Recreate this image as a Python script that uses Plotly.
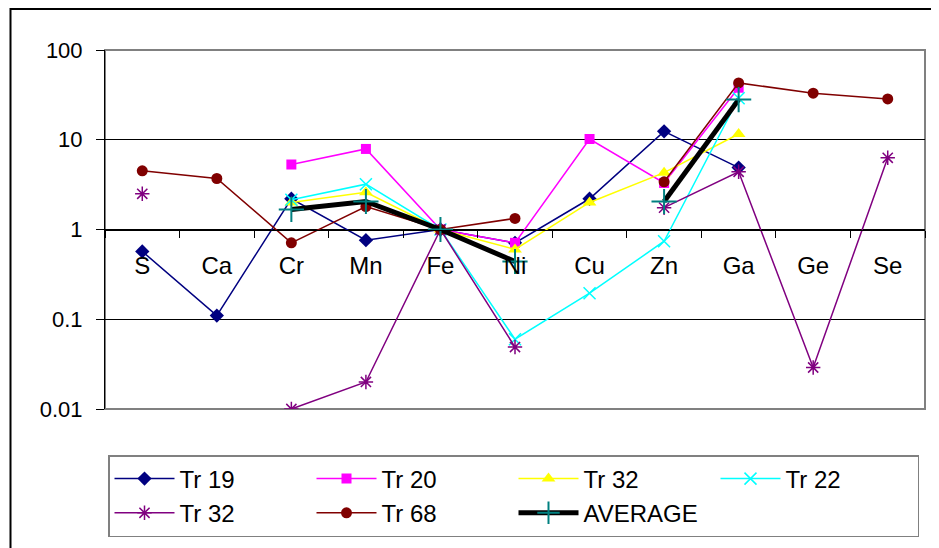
import plotly.graph_objects as go

elements = ["S", "Ca", "Cr", "Mn", "Fe", "Ni", "Cu", "Zn", "Ga", "Ge", "Se"]

tr19 = [0.57, 0.11, 2.2, 0.76, 1.0, 0.71, 2.2, 12.4, 4.9, None, None]
tr20 = [None, None, 5.3, 7.9, 1.0, 0.71, 10.2, 3.3, 38, None, None]
tr32a = [None, None, 2.0, 2.6, 1.0, 0.6, 2.0, 4.3, 11.6, None, None]
tr22 = [None, None, 2.15, 3.2, 1.0, 0.06, 0.195, 0.74, 29, None, None]
tr32b = [2.5, None, 0.01, 0.02, 1.0, 0.049, None, 1.75, 4.4, 0.029, 6.3]
tr68 = [4.5, 3.7, 0.71, 1.8, 1.0, 1.33, None, 3.4, 43, 33, 28.5]
average = [None, None, 1.67, 2.05, 1.0, 0.44, None, 2.05, 28, None, None]

ytickvals = [0.01, 0.1, 1, 10, 100]
yticktext = ["0.01", "0.1", "1", "10", "100"]

FONT = "Arial, Liberation Sans, sans-serif"

series = [
    ("Tr 19", tr19, "#000080", dict(symbol="diamond", size=11, color="#000080"), 1.5),
    ("Tr 20", tr20, "#FF00FF", dict(symbol="square", size=10, color="#FF00FF"), 1.5),
    ("Tr 32", tr32a, "#FFFF00", dict(symbol="triangle-up", size=12, color="#FFFF00"), 1.5),
    ("Tr 22", tr22, "#00FFFF", dict(symbol="x-thin-open", size=12, color="#00FFFF",
                                   line=dict(width=1.5, color="#00FFFF")), 1.5),
    ("Tr 32", tr32b, "#800080", dict(symbol="asterisk-open", size=12, color="#800080",
                                    line=dict(width=1.5, color="#800080")), 1.5),
    ("Tr 68", tr68, "#800000", dict(symbol="circle", size=11, color="#800000"), 1.5),
    ("AVERAGE", average, "#000000", dict(symbol="cross-thin-open", size=18, color="#008080",
                                        line=dict(width=2, color="#008080")), 5),
]

fig = go.Figure()
for name, vals, col, mk, lw in series:
    fig.add_trace(go.Scatter(
        x=elements, y=vals, name=name, mode="lines+markers",
        line=dict(color=col, width=lw), marker=mk, connectgaps=False,
    ))

# page body has an 8px margin, so the figure is laid out 8px up/left
L, T, R, B = 97, 42, 917, 402
W, H = 931, 540

fig.update_layout(
    width=W, height=H,
    margin=dict(l=L, r=W - R, t=T, b=H - B),
    paper_bgcolor="white", plot_bgcolor="white",
    font=dict(family=FONT, size=24, color="black"),
    showlegend=True,
    legend=dict(
        orientation="h", xref="paper", yref="paper",
        x=(100 - L) / (R - L), y=(B - 447) / (B - T), xanchor="left", yanchor="top",
        bordercolor="#808080", borderwidth=1.5, bgcolor="white",
        entrywidth=127, entrywidthmode="pixels", itemwidth=60,
        font=dict(family=FONT, size=24, color="black"),
        tracegroupgap=0,
    ),
    xaxis=dict(
        type="category", categoryorder="array", categoryarray=elements,
        anchor="free", position=0.5, showline=True, linecolor="black", linewidth=1,
        ticks="outside", tickson="boundaries", ticklen=7, tickcolor="black",
        showgrid=False, zeroline=False, ticklabelstandoff=15, automargin=False,
        tickfont=dict(family=FONT, size=24, color="black"),
        range=[-0.5, 10.5],
    ),
    yaxis=dict(
        type="log", range=[-2, 2], tickvals=ytickvals, ticktext=yticktext,
        showline=True, linecolor="black", linewidth=1,
        ticks="outside", ticklen=8, tickcolor="black",
        showgrid=True, gridcolor="black", gridwidth=1, zeroline=False,
        ticklabelstandoff=9, automargin=False,
        tickfont=dict(family=FONT, size=22, color="black"),
    ),
    shapes=[
        dict(type="rect", xref="paper", yref="paper", x0=0, x1=1, y0=0, y1=1,
             line=dict(color="#808080", width=2), layer="below"),
        dict(type="rect", xref="paper", yref="paper",
             x0=(2.5 - L) / (R - L), x1=1.2, y0=-0.6, y1=(B - 1) / (B - T),
             line=dict(color="black", width=2), layer="below"),
    ],
)

fig.write_html("out.html")
